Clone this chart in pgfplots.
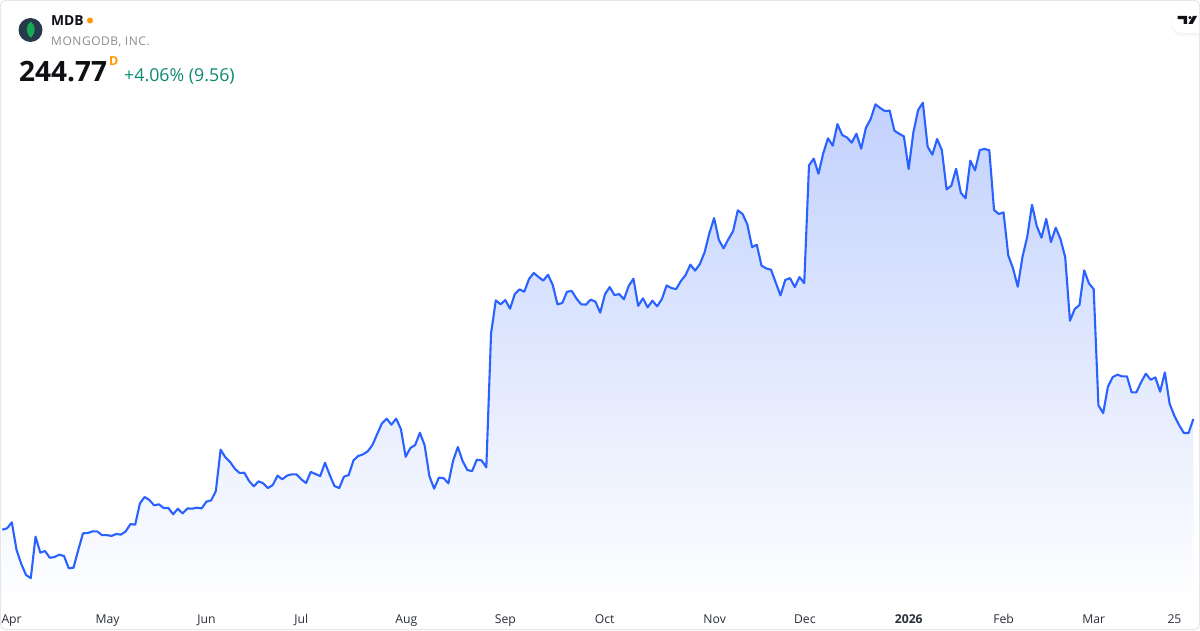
\documentclass[border=0pt]{standalone}
\usepackage{fontspec}
\setmainfont{Open Sans}
\newfontfamily\spacedfont[LetterSpace=4.5]{Open Sans}
\usepackage{pgfplots}
\usepackage{pgfplotstable}
\pgfplotsset{compat=1.18}

\definecolor{tvblue}{HTML}{2962FF}
\definecolor{areatop}{HTML}{C2D1FD}
\definecolor{tvframe}{HTML}{E4E6EB}
\definecolor{tvtext}{HTML}{0F1014}
\definecolor{tvaxis}{HTML}{2A2E39}
\definecolor{tvgrey}{HTML}{8A8D94}
\definecolor{tvorange}{HTML}{FF9800}
\definecolor{tvup}{HTML}{0B8A72}
\definecolor{logobg}{HTML}{273A4C}
\definecolor{logoleaf}{HTML}{13AA52}

% MDB daily close, trading day index and price
\pgfplotstableread{
day price
0 169.2
1 170.1
2 174.2
3 155.3
4 145.7
5 138.2
6 136.1
7 164.4
8 153.5
9 154.6
10 150.0
11 150.5
12 152.1
13 151.2
14 142.8
15 143.2
16 155.3
17 166.7
18 166.9
19 168.0
20 168.0
21 165.5
22 165.5
23 164.9
24 166.2
25 165.8
26 168.0
27 173.0
28 172.6
29 187.2
30 191.5
31 189.4
32 185.8
33 186.5
34 184.0
35 184.0
36 179.7
37 183.5
38 180.3
39 183.7
40 183.5
41 184.2
42 183.7
43 188.3
44 189.2
45 195.6
46 223.8
47 218.6
48 215.4
49 210.8
50 207.9
51 208.1
52 202.4
53 198.8
54 202.2
55 200.8
56 197.6
57 199.7
58 206.1
59 203.6
60 206.1
61 207.0
62 207.0
63 203.6
64 201.0
65 208.6
66 207.2
67 205.8
68 214.9
69 206.5
70 199.0
71 197.6
72 205.4
73 206.5
74 216.5
75 219.5
76 220.6
77 222.7
78 227.0
79 234.5
80 241.8
81 245.0
82 240.9
83 245.0
84 237.9
85 219.0
86 225.0
87 227.0
88 235.4
89 226.8
90 205.8
91 197.2
92 204.7
93 204.4
94 200.8
95 216.3
96 225.6
97 216.1
98 209.9
99 209.2
100 217.0
101 216.5
102 211.7
103 303.3
104 325.8
105 323.1
106 326.0
107 320.1
108 330.1
109 333.3
110 331.7
111 340.4
112 344.5
113 341.8
114 339.3
115 343.3
116 336.3
117 323.1
118 324.0
119 331.7
120 332.2
121 327.0
122 323.1
123 322.9
124 326.3
125 324.9
126 317.4
127 329.9
128 334.9
129 329.4
130 330.1
131 326.5
132 335.6
133 340.6
134 322.0
135 327.2
136 321.0
137 325.6
138 321.7
139 326.7
140 336.0
141 334.2
142 333.5
143 339.0
144 343.1
145 350.2
146 346.1
147 350.6
148 358.6
149 371.6
150 382.0
151 367.2
152 361.3
153 367.5
154 373.0
155 387.3
156 384.8
157 377.7
158 362.2
159 363.8
160 349.5
161 347.6
162 346.7
163 337.9
164 329.2
165 339.7
166 341.0
167 334.9
168 341.7
169 337.6
170 418.0
171 422.6
172 412.3
173 426.2
174 436.5
175 431.5
176 446.2
177 438.7
178 437.1
179 433.5
180 439.6
181 429.4
182 443.7
183 449.7
184 459.7
185 457.2
186 455.1
187 455.4
188 441.7
189 439.6
190 437.8
191 415.5
192 440.6
193 455.8
194 460.8
195 430.8
196 425.3
197 436.0
198 428.5
199 401.6
200 404.1
201 415.7
202 399.3
203 395.5
204 421.2
205 414.6
206 428.5
207 429.2
208 428.3
209 387.5
210 384.8
211 385.9
212 356.5
213 347.6
214 335.1
215 355.6
216 369.3
217 391.1
218 376.6
219 368.6
220 381.4
221 365.6
222 375.4
223 367.7
224 355.2
225 311.9
226 319.9
227 322.6
228 346.3
229 337.4
230 333.5
231 254.1
232 248.8
233 266.8
234 273.4
235 275.0
236 273.9
237 273.9
238 263.0
239 263.0
240 270.0
241 275.7
242 271.6
243 273.2
244 263.4
245 276.6
246 255.2
247 247.0
248 240.6
249 235.2
250 235.2
251 244.77
}\pricedata

\begin{document}
\begin{tikzpicture}
\path[use as bounding box] (0,-27pt) rectangle (1200pt,603pt);
\fill[white] (0,-27pt) rectangle (1200pt,603pt);

\begin{axis}[
    at={(0,0)}, anchor=south west,
    scale only axis,
    width=1200pt, height=603pt,
    xmin=-0.491, xmax=252.4,
    ymin=119.1, ymax=530.95,
    axis line style={draw=none},
    major tick length=0pt,
    ytick=\empty,
    xtick={1.83,22.06,42.9,62.9,85,105.9,126.8,150,169,190.9,210.9,229.9,246.9},
    xticklabels={Apr,May,Jun,Jul,Aug,Sep,Oct,Nov,Dec,\textbf{2026},Feb,Mar,25},
    xticklabel style={font=\fontsize{12.2}{14}\selectfont, text=tvaxis, anchor=base, yshift=-20pt, xshift=0.6pt, inner sep=0pt},
    clip=false,
]
% area under the line
\addplot[draw=none, top color=areatop, bottom color=white, forget plot]
    table[x=day, y=price] {\pricedata} \closedcycle;
\addplot[color=tvblue, line width=2.1pt, line join=round, mark=none]
    table[x=day, y=price] {\pricedata};
\end{axis}

% header, in picture pixels measured from the top left
\begin{scope}[x=1pt, y=-1pt, shift={(0,603pt)}]
  \draw[tvframe, line width=1pt, rounded corners=5pt] (0.5,0.5) rectangle (1199.5,629.5);

  % logo
  \fill[logobg] (30.5,30) circle (12);
  \fill[logoleaf] (30.7,21.5) .. controls (35.5,25.5) and (36.5,31) .. (31.2,37.5)
       .. controls (30.8,38) and (30.6,38) .. (30.2,37.5)
       .. controls (25,31) and (26,25.5) .. (30.7,21.5) -- cycle;

  \node[anchor=base west, inner sep=0pt, text=tvtext] at (51,25.5)
      {\fontsize{13.8}{15}\selectfont\bfseries MDB};
  \fill[tvorange] (90,20.5) circle (3);
  \node[anchor=base west, inner sep=0pt, text=tvgrey] at (51,45.5)
      {\fontsize{12}{14}\spacedfont MONGODB, INC.};
  \node[anchor=base west, inner sep=0pt, text=tvtext] at (19,82)
      {\fontsize{28}{30}\selectfont\bfseries 244.77};
  \node[anchor=base west, inner sep=0pt, text=tvorange] at (109,66)
      {\fontsize{12.5}{14}\selectfont\bfseries D};
  \node[anchor=base west, inner sep=0pt, text=tvup] at (124,81.5)
      {\fontsize{17.8}{20}\selectfont +4.06\% (9.56)};

  % chart provider badge, soft shadow below then white pill
  \fill[black!2] (1199,37) -- (1183,37) arc[start angle=90, end angle=270, radius=12.5] -- (1199,12) -- cycle;
  \fill[black!4] (1199,35) -- (1183,35) arc[start angle=90, end angle=270, radius=11.5] -- (1199,12) -- cycle;
  \fill[white] (1199,33) -- (1183,33) arc[start angle=90, end angle=270, radius=11.5] -- (1199,10) -- cycle;
  \fill[tvtext] (1177.5,16) -- (1187,16) -- (1187,24) -- (1183.6,24) -- (1183.6,19.2) -- (1177.5,19.2) -- cycle;
  \fill[tvtext] (1190,17.6) circle (1.7);
  \fill[tvtext] (1193,16) -- (1197,16) -- (1192.6,24) -- (1188.4,24) -- cycle;
\end{scope}
\end{tikzpicture}
\end{document}
